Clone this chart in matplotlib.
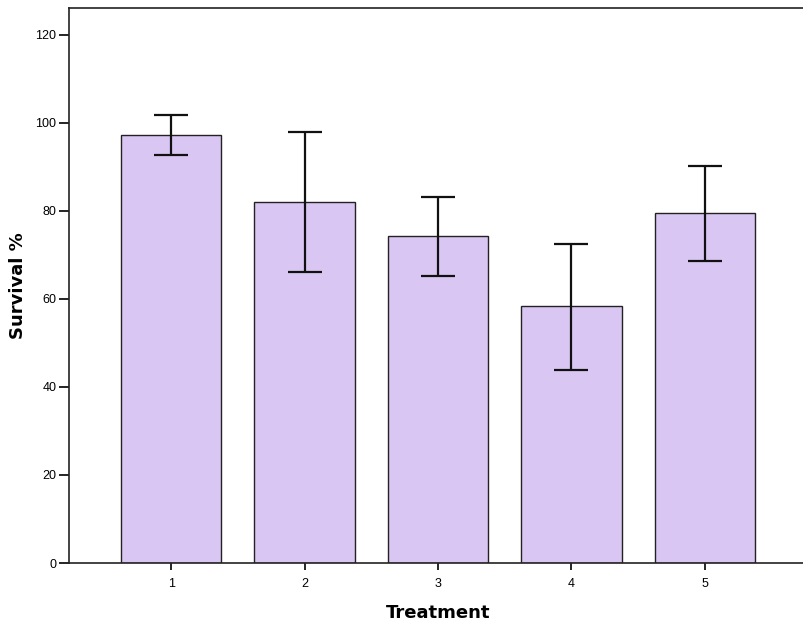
import matplotlib.pyplot as plt

treatments = [1, 2, 3, 4, 5]
survival = [97.3, 82.1, 74.4, 58.4, 79.5]
err_upper = [101.8, 98.0, 83.1, 72.5, 90.3]
err_lower = [92.7, 66.2, 65.1, 43.9, 68.6]

yerr = [[m - lo for m, lo in zip(survival, err_lower)],
        [hi - m for m, hi in zip(survival, err_upper)]]

plt.rcParams['font.family'] = ['Liberation Sans', 'DejaVu Sans']

fig = plt.figure(figsize=(8.04, 6.29), dpi=100)
ax = fig.add_axes([69 / 804, 1 - 563 / 629, 738 / 804, 555 / 629])

ax.bar(treatments, survival, width=0.755, color='#d9c6f2',
       edgecolor='#222222', linewidth=1.0)
ax.errorbar(treatments, survival, yerr=yerr, fmt='none', ecolor='#111111',
            elinewidth=1.6, capsize=12, capthick=1.6)

ax.set_xlim(0.235, 5.765)
ax.set_ylim(0, 126.1)
ax.set_yticks([0, 20, 40, 60, 80, 100, 120])
ax.set_xticks(treatments)

ax.spines['right'].set_visible(False)
for s in ['left', 'bottom', 'top']:
    ax.spines[s].set_linewidth(1.2)
    ax.spines[s].set_color('#222222')

ax.tick_params(axis='y', direction='out', length=7, width=1.2, labelsize=9, pad=2)
ax.tick_params(axis='x', direction='out', length=5, width=1.2, labelsize=9, pad=6)

ax.set_ylabel('Survival %', fontsize=13, fontweight='bold', labelpad=6,
              family='DejaVu Sans')
ax.set_xlabel('Treatment', fontsize=13, fontweight='bold', labelpad=10,
              family='DejaVu Sans')

fig.savefig('out.png', dpi=100)
